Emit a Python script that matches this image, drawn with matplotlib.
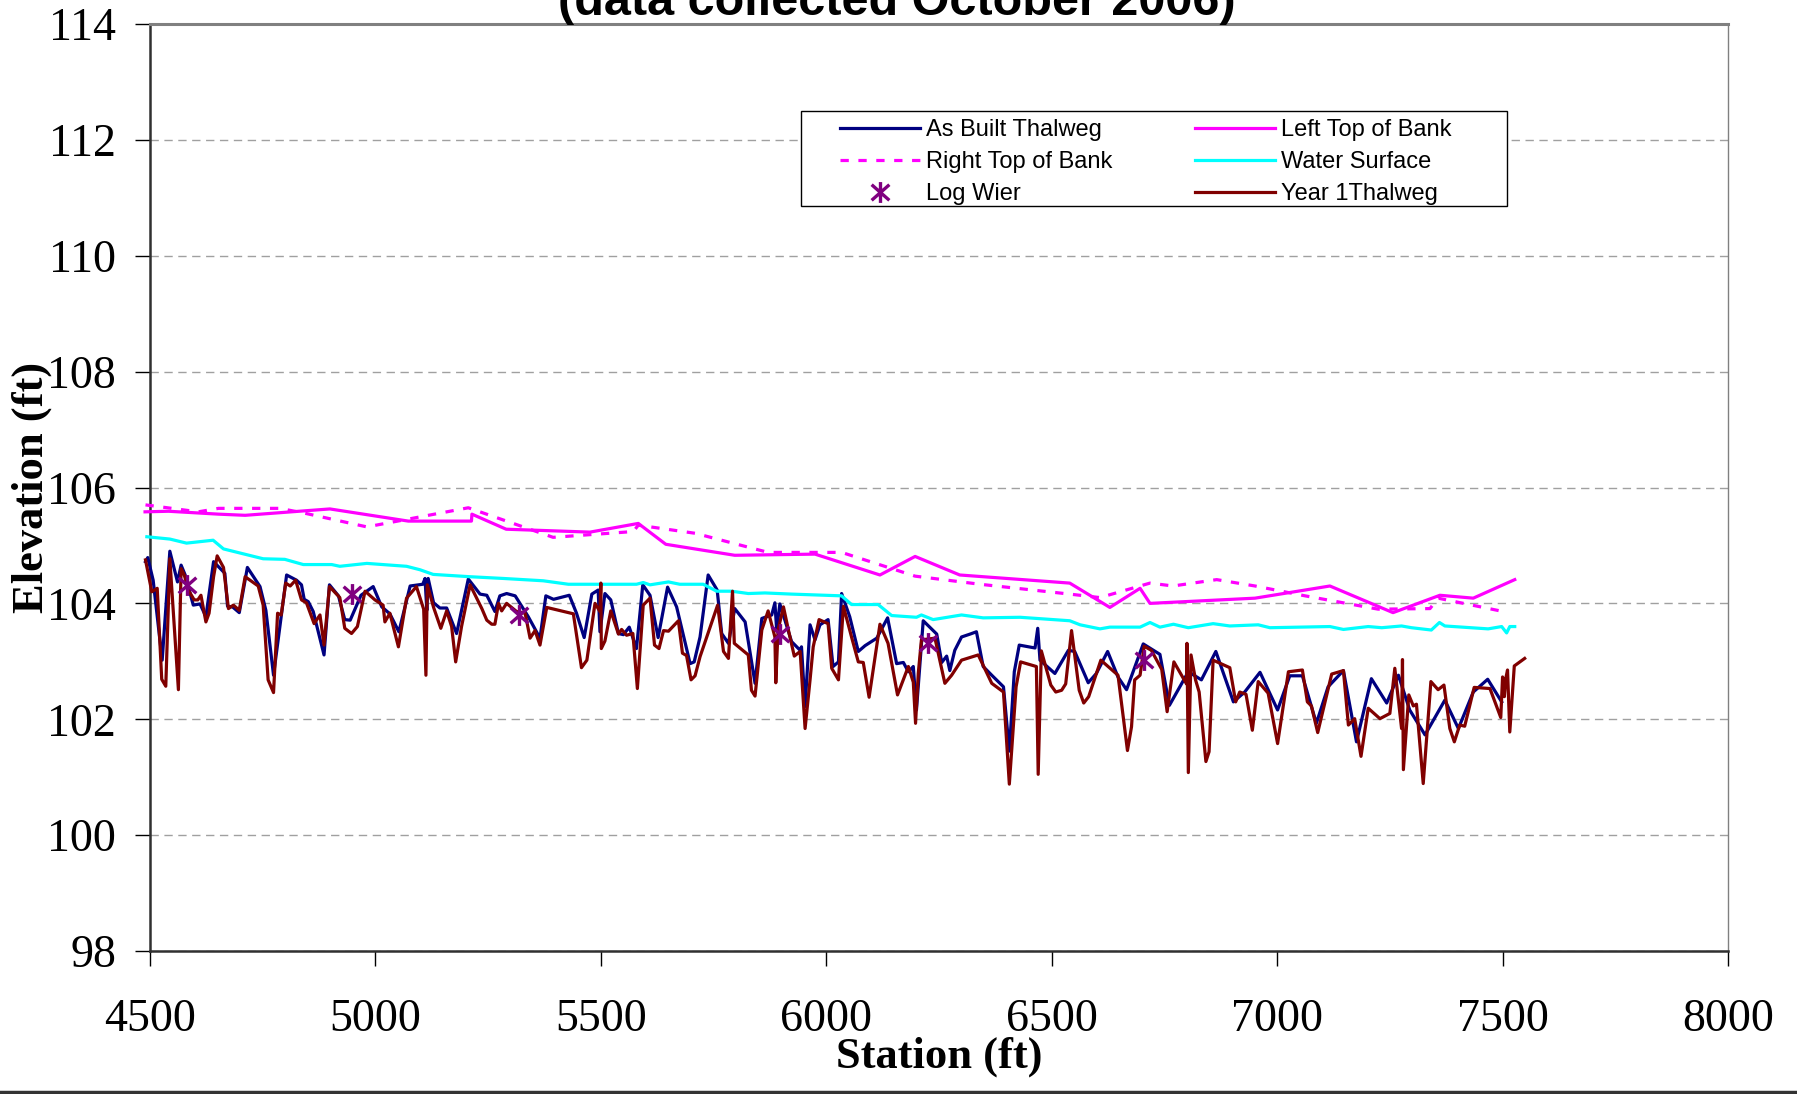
import matplotlib
matplotlib.use("Agg")
import matplotlib.pyplot as plt
import numpy as np
from matplotlib.path import Path
from matplotlib.patches import Rectangle
from matplotlib.lines import Line2D

# ---------------- data ----------------
asbuilt_sta = [4490, 4495, 4507, 4527, 4544, 4561, 4569, 4578, 4596, 4611, 4624, 4641, 4666, 4672, 4683, 4698,
               4716, 4744, 4757, 4774, 4803, 4825, 4836, 4842, 4851, 4862, 4886, 4898, 4918, 4932, 4944, 4968,
               4995, 5014, 5032, 5052, 5077, 5105, 5110, 5114, 5117, 5129, 5143, 5158, 5180, 5206, 5232, 5247,
               5265, 5276, 5291, 5310, 5339, 5365, 5378, 5395, 5430, 5446, 5463, 5480, 5494, 5498, 5509, 5522,
               5539, 5550, 5563, 5579, 5593, 5609, 5627, 5648, 5668, 5698, 5707, 5720, 5738, 5758, 5768, 5783,
               5797, 5820, 5842, 5857, 5879, 5886, 5890, 5897, 5923, 5942, 5945, 5953, 5964, 5975, 5986, 6004,
               6015, 6027, 6034, 6052, 6071, 6086, 6112, 6136, 6156, 6171, 6182, 6193, 6200, 6215, 6245, 6256,
               6267, 6274, 6285, 6300, 6319, 6333, 6348, 6367, 6393, 6406, 6417, 6428, 6463, 6469, 6474, 6507,
               6537, 6551, 6581, 6599, 6624, 6647, 6666, 6703, 6740, 6761, 6803, 6832, 6864, 6903, 6928, 6962,
               7001, 7028, 7056, 7087, 7113, 7147, 7176, 7209, 7243, 7269, 7294, 7328, 7372, 7402, 7435, 7467,
               7498]
asbuilt_elev = [104.72, 104.79, 104.40, 103.02, 104.90, 104.37, 104.66, 104.49, 103.97, 103.99, 103.77, 104.72,
                104.52, 103.95, 103.94, 103.84, 104.62, 104.29, 103.88, 102.76, 104.49, 104.40, 104.32, 104.07,
                104.03, 103.86, 103.11, 104.32, 104.13, 103.72, 103.71, 104.14, 104.29, 103.94, 103.82, 103.51,
                104.30, 104.33, 104.43, 103.88, 104.43, 104.01, 103.92, 103.92, 103.48, 104.42, 104.16, 104.14,
                103.86, 104.13, 104.17, 104.13, 103.77, 103.40, 104.13, 104.07, 104.14, 103.83, 103.41, 104.16,
                104.23, 103.51, 104.17, 104.06, 103.48, 103.46, 103.59, 103.22, 104.32, 104.14, 103.41, 104.28,
                103.94, 102.96, 102.99, 103.42, 104.49, 104.23, 103.48, 103.31, 103.91, 103.68, 102.62, 103.74,
                103.80, 104.01, 103.54, 103.99, 103.34, 103.19, 103.25, 102.22, 103.63, 103.37, 103.63, 103.72,
                102.91, 102.99, 104.17, 103.77, 103.17, 103.27, 103.40, 103.75, 102.96, 102.98, 102.82, 102.91,
                102.16, 103.70, 103.47, 102.98, 103.09, 102.84, 103.19, 103.42, 103.47, 103.51, 102.91, 102.76,
                102.56, 101.45, 102.82, 103.28, 103.23, 103.57, 103.02, 102.79, 103.19, 103.17, 102.63, 102.79,
                103.17, 102.73, 102.51, 103.30, 103.12, 102.24, 102.82, 102.68, 103.17, 102.30, 102.47, 102.81,
                102.16, 102.75, 102.75, 101.93, 102.56, 102.84, 101.61, 102.70, 102.28, 102.76, 102.16, 101.73,
                102.33, 101.84, 102.47, 102.69, 102.30]

left_sta = [4489, 4541, 4652, 4711, 4899, 5073, 5213, 5214, 5290, 5476, 5583, 5644, 5797, 5975, 6119, 6197,
            6296, 6540, 6629, 6696, 6718, 6951, 7117, 7257, 7361, 7435, 7527]
left_elev = [105.58, 105.59, 105.54, 105.52, 105.63, 105.42, 105.42, 105.54, 105.28, 105.23, 105.38, 105.02,
             104.83, 104.85, 104.49, 104.81, 104.49, 104.35, 103.93, 104.26, 104.00, 104.09, 104.30, 103.84,
             104.14, 104.09, 104.41]

right_sta = [4490, 4607, 4652, 4788, 4847, 4981, 5206, 5394, 5572, 5583, 5709, 5871, 6034, 6197, 6341, 6540,
             6607, 6718, 6769, 6866, 6951, 7062, 7224, 7339, 7357, 7501]
right_elev = [105.70, 105.58, 105.64, 105.64, 105.55, 105.32, 105.65, 105.14, 105.24, 105.35, 105.21, 104.88,
              104.88, 104.47, 104.33, 104.16, 104.10, 104.35, 104.30, 104.41, 104.30, 104.13, 103.90, 103.91,
              104.09, 103.86]

water_sta = [4493, 4544, 4581, 4640, 4663, 4751, 4799, 4840, 4903, 4921, 4981, 5069, 5099, 5128, 5210, 5284,
             5372, 5428, 5498, 5579, 5594, 5609, 5650, 5675, 5727, 5757, 5790, 5827, 5864, 5923, 6034, 6056,
             6115, 6145, 6200, 6211, 6237, 6300, 6348, 6430, 6540, 6563, 6607, 6629, 6696, 6718, 6740, 6770,
             6803, 6858, 6895, 6958, 6984, 7117, 7147, 7202, 7232, 7276, 7298, 7342, 7360, 7372, 7468, 7498,
             7509, 7516, 7527]
water_elev = [105.15, 105.11, 105.04, 105.09, 104.94, 104.77, 104.76, 104.67, 104.67, 104.64, 104.69, 104.64,
              104.58, 104.50, 104.46, 104.43, 104.39, 104.33, 104.33, 104.33, 104.36, 104.32, 104.37, 104.33,
              104.33, 104.21, 104.21, 104.17, 104.18, 104.16, 104.13, 103.98, 103.98, 103.79, 103.76, 103.80,
              103.72, 103.80, 103.75, 103.76, 103.70, 103.63, 103.56, 103.59, 103.59, 103.67, 103.59, 103.64,
              103.58, 103.65, 103.61, 103.63, 103.58, 103.60, 103.55, 103.60, 103.58, 103.61, 103.58, 103.54,
              103.67, 103.61, 103.56, 103.60, 103.49, 103.60, 103.60]

weir_sta = [4583, 4947, 5318, 5897, 6226, 6704]
weir_elev = [104.32, 104.16, 103.80, 103.47, 103.31, 103.02]

year1_sta = [4490, 4504, 4516, 4526, 4535, 4544, 4563, 4569, 4576, 4585, 4598, 4606, 4613, 4624, 4631, 4641,
             4649, 4663, 4674, 4685, 4698, 4711, 4740, 4751, 4762, 4774, 4783, 4791, 4801, 4811, 4823, 4836,
             4847, 4864, 4877, 4886, 4898, 4921, 4932, 4947, 4960, 4977, 4999, 5017, 5021, 5032, 5051, 5069,
             5091, 5107, 5112, 5115, 5129, 5145, 5158, 5169, 5178, 5191, 5210, 5236, 5247, 5258, 5265, 5273,
             5280, 5291, 5313, 5332, 5343, 5354, 5365, 5380, 5439, 5457, 5469, 5487, 5498, 5500, 5501, 5509,
             5522, 5539, 5546, 5557, 5571, 5581, 5594, 5609, 5619, 5629, 5639, 5650, 5672, 5681, 5690, 5700,
             5709, 5720, 5759, 5772, 5783, 5792, 5796, 5827, 5834, 5842, 5857, 5871, 5886, 5888, 5893, 5905,
             5916, 5929, 5942, 5953, 5964, 5971, 5984, 6004, 6012, 6027, 6038, 6056, 6071, 6082, 6095, 6119,
             6137, 6158, 6182, 6193, 6198, 6204, 6211, 6241, 6263, 6278, 6300, 6337, 6367, 6393, 6406, 6421,
             6431, 6466, 6470, 6477, 6498, 6509, 6522, 6531, 6544, 6561, 6571, 6582, 6609, 6647, 6660, 6668,
             6677, 6684, 6696, 6705, 6721, 6744, 6756, 6771, 6799, 6800, 6803, 6809, 6819, 6827, 6842, 6849,
             6858, 6895, 6908, 6917, 6931, 6945, 6958, 6980, 7001, 7025, 7056, 7067, 7076, 7090, 7121, 7147,
             7158, 7172, 7186, 7202, 7228, 7250, 7261, 7276, 7278, 7280, 7292, 7302, 7309, 7324, 7341, 7357,
             7370, 7383, 7393, 7405, 7416, 7437, 7472, 7496, 7500, 7504, 7507, 7511, 7516, 7526, 7549]
year1_elev = [104.75, 104.20, 104.26, 102.69, 102.57, 104.77, 102.51, 104.60, 104.49, 104.23, 104.06, 104.06,
              104.14, 103.68, 103.83, 104.46, 104.82, 104.62, 103.91, 103.97, 103.88, 104.46, 104.30, 103.97,
              102.68, 102.46, 103.83, 103.80, 104.35, 104.30, 104.40, 104.06, 104.01, 103.65, 103.80, 103.28,
              104.29, 104.10, 103.57, 103.48, 103.60, 104.21, 104.06, 103.97, 103.68, 103.83, 103.25, 104.09,
              104.29, 103.90, 102.76, 104.32, 103.93, 103.57, 103.87, 103.60, 102.99, 103.60, 104.32, 103.91,
              103.71, 103.64, 103.64, 104.00, 103.87, 104.00, 103.86, 103.83, 103.40, 103.53, 103.28, 103.93,
              103.82, 102.89, 103.02, 104.00, 103.86, 104.35, 103.22, 103.35, 103.87, 103.47, 103.55, 103.45,
              103.48, 102.53, 103.97, 104.09, 103.28, 103.22, 103.53, 103.52, 103.70, 103.14, 103.10, 102.68,
              102.75, 103.08, 103.97, 103.17, 103.05, 104.21, 103.31, 103.11, 102.50, 102.40, 103.54, 103.87,
              103.42, 102.63, 103.54, 103.94, 103.54, 103.09, 103.17, 101.84, 102.68, 103.25, 103.72, 103.65,
              102.88, 102.68, 103.95, 103.42, 102.99, 102.98, 102.38, 103.64, 103.31, 102.42, 102.91, 102.64,
              101.93, 102.79, 103.37, 103.40, 102.62, 102.76, 103.02, 103.11, 102.62, 102.47, 100.88, 102.56,
              102.99, 102.91, 101.05, 103.18, 102.59, 102.47, 102.50, 102.61, 103.53, 102.50, 102.28, 102.39,
              103.02, 102.76, 101.96, 101.46, 101.87, 102.68, 102.76, 103.26, 103.19, 102.86, 102.13, 102.99,
              102.61, 103.31, 101.08, 103.11, 102.68, 102.47, 101.27, 101.44, 103.02, 102.89, 102.30, 102.47,
              102.43, 101.81, 102.65, 102.45, 101.58, 102.82, 102.85, 102.30, 102.23, 101.77, 102.78, 102.84,
              101.90, 102.01, 101.36, 102.19, 102.01, 102.10, 102.88, 101.84, 103.03, 101.13, 102.42, 102.23,
              102.26, 100.89, 102.65, 102.51, 102.59, 101.84, 101.61, 101.90, 101.88, 102.55, 102.53, 102.03,
              102.73, 102.39, 102.70, 102.85, 101.78, 102.92, 103.05]

x_ticks = [4500, 5000, 5500, 6000, 6500, 7000, 7500, 8000]
y_ticks = [98, 100, 102, 104, 106, 108, 110, 112, 114]

# ---------------- figure ----------------
W, H = 1797, 1094
fig = plt.figure(figsize=(W / 100, H / 100), dpi=100)
fig.patch.set_facecolor("white")

def fx(px):
    return px / W

def fy(py):
    return 1 - py / H

ax_l, ax_r, ax_t, ax_b = 150, 1728, 24, 951
ax = fig.add_axes([fx(ax_l), fy(ax_b), fx(ax_r - ax_l), (ax_b - ax_t) / H])

lw = 2.3
ax.plot(asbuilt_sta, asbuilt_elev, color="#000080", lw=lw, label="As Built Thalweg", zorder=3, clip_on=False)
ax.plot(left_sta, left_elev, color="#FF00FF", lw=lw, label="Left Top of Bank", zorder=3, clip_on=False)
ax.plot(right_sta, right_elev, color="#FF00FF", lw=lw, ls=(0, (2.6, 3.0)), label="Right Top of Bank",
        zorder=3, clip_on=False)
ax.plot(water_sta, water_elev, color="#00FFFF", lw=lw, label="Water Surface", zorder=3, clip_on=False)

ast = Path([(0, -1), (0, 1), (-0.85, -0.75), (0.85, 0.75), (-0.85, 0.75), (0.85, -0.75)],
           [Path.MOVETO, Path.LINETO, Path.MOVETO, Path.LINETO, Path.MOVETO, Path.LINETO])
ax.plot(weir_sta, weir_elev, ls="none", marker=ast, ms=15, mew=2.4, mec="#800080", mfc="none",
        label="Log Wier", zorder=5)
ax.plot(year1_sta, year1_elev, color="#800000", lw=lw, label="Year 1Thalweg", zorder=4, clip_on=False)

ax.set_xlim(4500, 8000)
ax.set_ylim(98, 114)
ax.set_xticks(x_ticks)
ax.set_yticks(y_ticks)
ax.set_xticklabels([str(v) for v in x_ticks])
ax.set_yticklabels([str(v) for v in y_ticks])

ax.yaxis.grid(True, color="#A0A0A0", lw=1.0, ls=(0, (6, 4)))
ax.set_axisbelow(True)

for side in ["left", "bottom"]:
    ax.spines[side].set_color("#303030")
    ax.spines[side].set_linewidth(1.8)
ax.spines["top"].set_color("#808080")
ax.spines["top"].set_linewidth(2.2)
ax.spines["right"].set_color("#808080")
ax.spines["right"].set_linewidth(1.0)

ax.tick_params(axis="both", direction="out", length=10.5, width=1.0, color="black")
ax.tick_params(axis="y", pad=14)
ax.tick_params(axis="x", pad=24)
for lab in ax.get_xticklabels() + ax.get_yticklabels():
    lab.set_fontfamily("Liberation Serif")
    lab.set_fontsize(33)

fig.text(fx(939), fy(1057), "Station (ft)", ha="center", va="center", fontsize=32,
         fontweight="bold", family="Liberation Serif")
fig.text(fx(32), fy(487), "Elevation (ft)", ha="center", va="center", rotation=90, fontsize=32,
         fontweight="bold", family="Liberation Serif")
fig.text(fx(897), fy(15), "(data collected October 2006)", ha="center", va="baseline", fontsize=35,
         fontweight="bold", family="Liberation Sans")

# legend
handles, labels = ax.get_legend_handles_labels()
order = ["As Built Thalweg", "Right Top of Bank", "Log Wier", "Left Top of Bank", "Water Surface",
         "Year 1Thalweg"]
hmap = dict(zip(labels, handles))
leg = ax.legend([hmap[k] for k in order], order, ncol=2, frameon=False, loc="upper left",
                bbox_to_anchor=(fx(840), fy(119)), bbox_transform=fig.transFigure,
                prop={"family": "Liberation Sans", "size": 17}, handlelength=3.4, handletextpad=0.25,
                columnspacing=3.5, labelspacing=0.43, borderpad=0.0, borderaxespad=0.0, numpoints=1)
leg.set_zorder(11)
box = Rectangle((fx(801), fy(206)), fx(1507 - 801), (206 - 111) / H, transform=fig.transFigure,
                facecolor="white", edgecolor="black", lw=1.0, zorder=10, clip_on=False)
ax.add_patch(box)

# bottom border line of the image
fig.add_artist(Line2D([0, 1], [fy(1092), fy(1092)], transform=fig.transFigure, color="#333333", lw=2.5))

fig.savefig("out.png", dpi=100, facecolor="white")
